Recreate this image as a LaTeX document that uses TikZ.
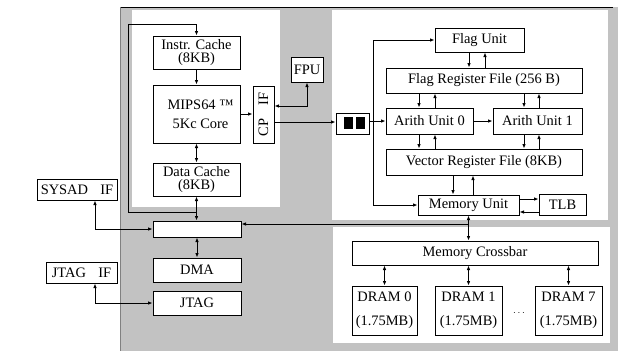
\documentclass[tikz,border=0pt]{standalone}
\usepackage{fontspec}
\setmainfont{Liberation Serif}
\usetikzlibrary{arrows.meta}
\definecolor{bgshade}{gray}{0.76}
\newcommand\mybox[7][]{\node[blk,#1,minimum width={(#5-#3)*1bp},minimum height={(#6-#4)*1bp}] (#2) at ({(#3+#5)/2},{(#4+#6)/2}) {#7};}
\begin{document}
\begin{tikzpicture}[x=1bp,y=-1bp,
  blk/.style={draw,line width=1bp,fill=white,inner sep=0pt,align=center,font=\fontsize{14.5}{14}\selectfont},
  ln/.style={line width=0.9bp},
  arr/.style={ln,-{Latex[length=4.5bp,width=3.6bp]}},
  bi/.style={ln,{Latex[length=4.5bp,width=3.6bp]}-{Latex[length=4.5bp,width=3.6bp]}}]
\useasboundingbox (0,0) rectangle (618,351);
% background regions
\fill[bgshade] (120,7) rectangle (618,351);
\draw[line width=1bp] (120,7) -- (613,7);
\draw[gray,line width=0.6bp] (120,7) -- (120,351);
\fill[white] (132,10) rectangle (280,207);
\fill[white] (332,10) rectangle (608,220);
\fill[white] (333,227) rectangle (610,343);
% left boxes
\mybox{icache}{153}{36}{240}{69}{Instr. Cache\\(8KB)}
\mybox{core}{153}{85}{240}{143}{\hspace*{8bp}MIPS64 ™\\[5bp]\hspace*{8bp}5Kc Core}
\mybox{dcache}{153}{163}{240}{196}{Data Cache\\(8KB)}
\mybox{bus}{153}{221}{241}{237}{}
\mybox{dma}{153}{258}{241}{282}{DMA}
\mybox{jtag}{153}{291}{241}{315}{JTAG}
\mybox{sysad}{37}{179}{117}{200}{SYSAD\hspace{0.85em}IF}
\mybox{jtagif}{46}{262}{117}{283}{JTAG\hspace{0.85em}IF}
\mybox{cpif}{253}{86}{274}{143}{}
\node[rotate=90,inner sep=0pt,font=\fontsize{14.5}{14}\selectfont] (cpiftext) at (cpif.center) {CP\hspace{0.9em}IF};
\mybox{fpu}{291}{57}{323}{82}{FPU}
\mybox{vbox}{336}{113}{369}{134}{}
\fill (344,117) rectangle (353,129);
\fill (356,117) rectangle (365,129);
% right boxes
\mybox{fu}{435}{28}{524}{52}{Flag Unit}
\mybox{frf}{386}{68}{582}{93}{Flag Register File (256 B)}
\mybox{au0}{386}{108}{473}{134}{Arith Unit 0}
\mybox{au1}{493}{108}{582}{134}{Arith Unit 1}
\mybox{vrf}{386}{149}{582}{175}{Vector Register File (8KB)}
\mybox{mu}{418}{195}{519}{215}{Memory Unit}
\mybox{tlb}{539}{194}{586}{215}{TLB}
\mybox{xbar}{352}{241}{598}{265}{Memory Crossbar}
\mybox{dram0}{352}{286}{417}{335}{DRAM 0\\[10bp](1.75MB)}
\mybox{dram1}{435}{286}{502}{335}{DRAM 1\\[10bp](1.75MB)}
\mybox{dram7}{535}{286}{602}{335}{DRAM 7\\[10bp](1.75MB)}
\node[inner sep=0pt] (dots) at (519,313) {$\cdots$};
% left connectors
\coordinate (lp) at (128,212);
\coordinate (lt) at (128,24);
\draw[arr] (dcache.south |- lp) -- (lp) -- (lt) -- (lt -| icache.north) -- (icache.north);
\draw[arr] (icache.south) -- (core.north);
\draw[bi] (core.south) -- (dcache.north);
\draw[bi] (dcache.south) -- (dcache.south |- bus.north);
\draw[bi] (dma.north |- bus.south) -- (dma.north);
\coordinate (sy) at (95,0);
\draw[bi] (bus.west) -| (sy |- sysad.south);
\draw[bi] (jtag.west) -| (sy |- jtagif.south);
\draw[arr] (core.east) -- (core.east -| cpif.west);
\draw[bi] (cpif.east |- 0,106) -| (fpu.south);
\draw[arr] (cpif.east |- 0,122) -- (vbox.west |- 0,122);
% right connectors
\draw[arr] (vbox.east |- au0.west) -- (au0.west);
\coordinate (sp) at (373,121);
\draw[arr] (sp) -- (sp |- fu.west) -- (fu.west);
\draw[arr] (sp) -- (sp |- mu.west) -- (mu.west);
\draw[arr] (au0.east) -- (au1.west);
\draw[arr] (469,0 |- fu.south) -- (469,0 |- frf.north);
\draw[arr] (485,0 |- frf.north) -- (485,0 |- fu.south);
\draw[arr] (419,0 |- frf.south) -- (419,0 |- au0.north);
\draw[arr] (435,0 |- au0.north) -- (435,0 |- frf.south);
\draw[arr] (524,0 |- frf.south) -- (524,0 |- au1.north);
\draw[arr] (539,0 |- au1.north) -- (539,0 |- frf.south);
\draw[arr] (419,0 |- au0.south) -- (419,0 |- vrf.north);
\draw[arr] (435,0 |- vrf.north) -- (435,0 |- au0.south);
\draw[arr] (524,0 |- au1.south) -- (524,0 |- vrf.north);
\draw[arr] (539,0 |- vrf.north) -- (539,0 |- au1.south);
\draw[arr] (453,0 |- vrf.south) -- (453,0 |- mu.north);
\draw[arr] (473,0 |- mu.north) -- (473,0 |- vrf.south);
\draw[arr] (mu.east |- 0,199) -- (tlb.west |- 0,199);
\draw[arr] (tlb.west |- 0,212) -- (mu.east |- 0,212);
\draw[bi] (mu.south) -- (mu.south |- xbar.north);
\draw[arr] (mu.south |- 0,224) -- (bus.east |- 0,224);
\draw[bi] (dram0.north |- xbar.south) -- (dram0.north);
\draw[bi] (dram1.north |- xbar.south) -- (dram1.north);
\draw[bi] (dram7.north |- xbar.south) -- (dram7.north);
\end{tikzpicture}
\end{document}
